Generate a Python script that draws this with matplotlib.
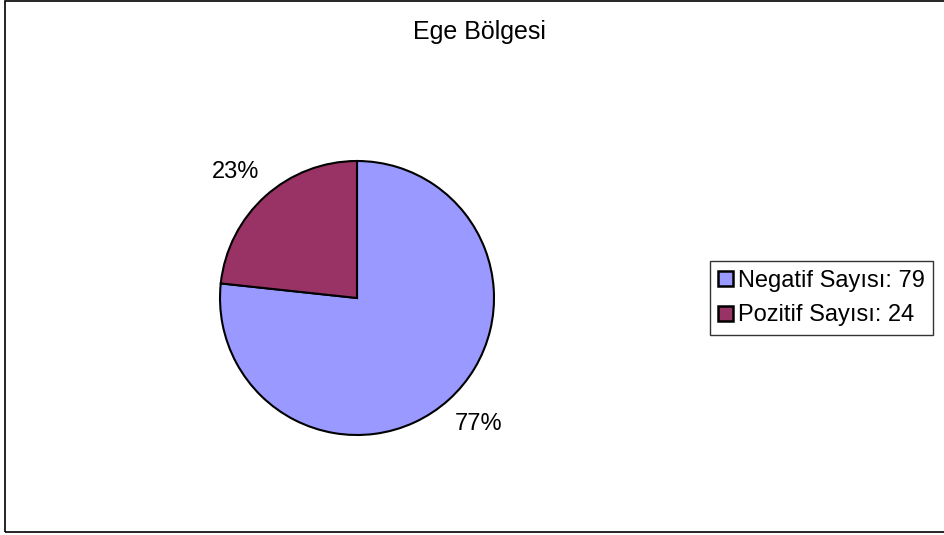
import numpy as np
import matplotlib.pyplot as plt
from matplotlib.patches import Patch, Rectangle

plt.rcParams["font.family"] = ["Liberation Sans", "DejaVu Sans"]

# regional sentiment counts
labels = ["Negatif Sayısı", "Pozitif Sayısı"]
counts = [79, 24]
colors = ["#9999FF", "#993366"]
title = "Ege Bölgesi"

W, H = 944, 535
fig = plt.figure(figsize=(W / 100, H / 100), dpi=100)

# outer chart border
fig.patches.append(Rectangle((5 / W, 1 - 532 / H), (W + 10) / W, (531) / H,
                             transform=fig.transFigure, fill=False,
                             edgecolor="black", linewidth=1.2))

cx, cy, r = 357, 298, 137
ax = fig.add_axes([(cx - r) / W, (H - cy - r) / H, 2 * r / W, 2 * r / H])
wedges, _, autotexts = ax.pie(
    counts,
    colors=colors,
    startangle=90,
    counterclock=False,
    autopct="%1.0f%%",
    wedgeprops=dict(edgecolor="black", linewidth=1.5),
    textprops=dict(fontsize=17),
)
# percentage labels sit just outside the rim
for w, t in zip(wedges, autotexts):
    ang = np.deg2rad((w.theta1 + w.theta2) / 2 + 2)
    t.set_position((1.28 * np.cos(ang), 1.28 * np.sin(ang)))
ax.set_xlim(-1, 1)
ax.set_ylim(-1, 1)
ax.set_aspect("equal")

fig.text(479 / W, 1 - 32 / H, title, ha="center", va="center", fontsize=18)

handles = [Patch(facecolor=c, edgecolor="black", linewidth=1.8) for c in colors]
leg_labels = [f"{l}: {n}" for l, n in zip(labels, counts)]
leg = fig.legend(handles, leg_labels, loc="center left",
                 bbox_to_anchor=(710 / W, 1 - 298 / H), fontsize=17,
                 handlelength=0.62, handleheight=0.62, handletextpad=0.2,
                 borderpad=0.35, labelspacing=0.55, borderaxespad=0,
                 fancybox=False, frameon=True)
leg.get_frame().set_edgecolor("black")
leg.get_frame().set_linewidth(1.0)

fig.savefig("out.png", dpi=100)
